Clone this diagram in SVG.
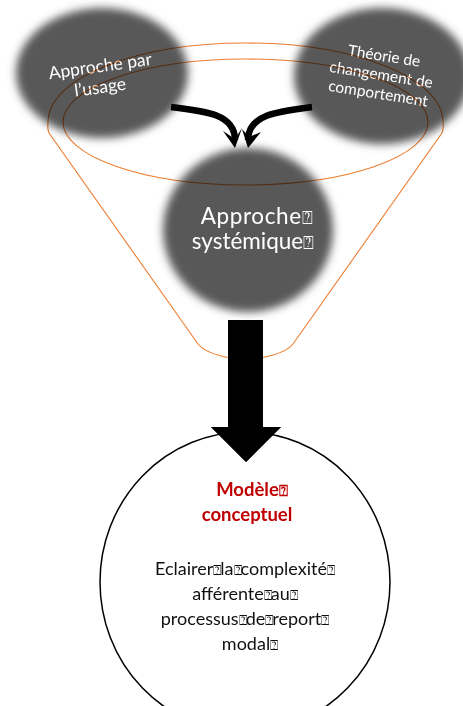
<svg xmlns="http://www.w3.org/2000/svg" width="463" height="706" viewBox="0 0 463 706">
<style>
text{font-family:Lato,"Liberation Sans",sans-serif;text-anchor:middle}
.w{fill:#fff}
.blob{fill:#595959;filter:url(#soft)}
.fun{fill:none;stroke:#ed7d31;stroke-width:1.100;mix-blend-mode:multiply}
.cv{fill:none;stroke:#000;stroke-width:6.500}
.t{font-family:"DejaVu Sans",sans-serif;font-size:.8em;stroke:none}
</style>
<defs>
<filter id="soft" x="-10%" y="-10%" width="120%" height="120%"><feGaussianBlur stdDeviation="4"/></filter>
</defs>
<rect width="463" height="706" fill="#fff"/>
<g id="node-usage"><ellipse class="blob" cx="102" cy="73" rx="86" ry="65"/>
<text class="w" font-size="17.500" transform="translate(101,72) rotate(-8)"><tspan x="0" y="0">Approche par</tspan><tspan x="-3" y="21">l’usage</tspan></text></g>
<g id="node-theorie"><ellipse class="blob" cx="382" cy="76" rx="88" ry="68"/>
<text class="w" font-size="15.500" transform="translate(381,76) rotate(9)"><tspan x="0" y="-15">Théorie de</tspan><tspan x="0" y="4">changement de</tspan><tspan x="0" y="23">comportement</tspan></text></g>
<g id="node-systemique"><ellipse class="blob" cx="248" cy="230" rx="85" ry="82"/>
<text class="w" font-size="22.500"><tspan x="257" y="224" letter-spacing=".6">Approche<tspan class="t">⍰</tspan></tspan><tspan x="253" y="249">systémique<tspan class="t">⍰</tspan></tspan></text></g>
<g id="connectors">
<ellipse class="fun" cx="245.500" cy="122" rx="182.500" ry="63"/>
<path class="fun" d="M49 133 C47 128 48 124 48 122 C48 78 136 43 245.500 43 C355 43 443 78 443 122 C443 124 444 128 442 133 L293 344 C285 354 262 359 245.500 359 C229 359 206 354 198 344 Z"/>
<path class="cv" d="M171 107 C205 111 235 114 235 140"/>
<path d="M235 148 L223 131 L235 139 L242 128Z"/>
<path class="cv" d="M312 107 C280 111 248 114 248 140"/>
<path d="M248 148 L242 129 L249 137 L261 132Z"/>
<path d="M228 320H263V427H281L246 462 211 427H228Z"/>
</g>
<g id="node-modele"><ellipse cx="245" cy="582" rx="145" ry="150" fill="none" stroke="#000" stroke-width="1.500"/>
<path d="M228 420H263V427H281L246 462 211 427H228Z"/>
<text font-size="18.500" font-weight="700" fill="#c00000"><tspan x="252" y="496">Modèle<tspan class="t">⍰</tspan></tspan><tspan x="247" y="521">conceptuel</tspan></text>
<text font-size="18" fill="#111"><tspan x="245" y="575">Eclairer<tspan class="t">⍰</tspan><tspan dx="-1">la</tspan><tspan class="t">⍰</tspan><tspan dx="-1">complexité</tspan><tspan class="t">⍰</tspan></tspan><tspan x="245" y="600">afférente<tspan class="t">⍰</tspan><tspan dx="-1">au</tspan><tspan class="t">⍰</tspan></tspan><tspan x="245" y="625">processus<tspan class="t">⍰</tspan><tspan dx="-1">de</tspan><tspan class="t">⍰</tspan><tspan dx="-1">report</tspan><tspan class="t">⍰</tspan></tspan><tspan x="250" y="650">modal<tspan class="t">⍰</tspan></tspan></text></g>
</svg>
